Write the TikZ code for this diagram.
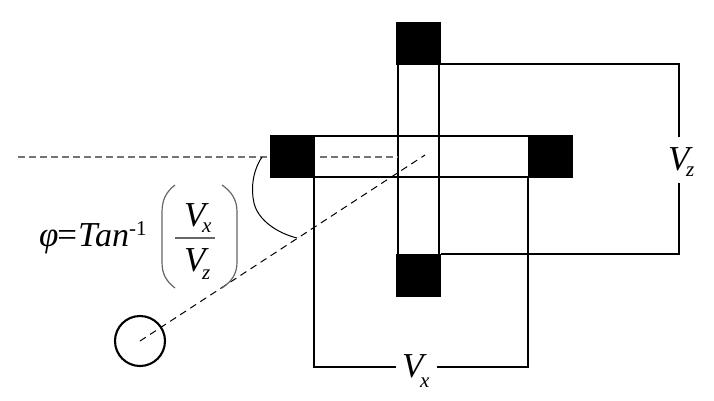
\documentclass[tikz,border=0pt]{standalone}
\usepackage{fontspec}
\setmainfont{Liberation Serif}
\newcommand{\bigit}{\fontsize{35}{35}\selectfont\itshape}
\newcommand{\subit}{\fontsize{21}{21}\selectfont\itshape}
\newcommand{\supup}{\fontsize{21}{21}\selectfont}
\newcommand{\vsub}[2]{{\bigit V}\kern-3.5pt\raisebox{#2}{\subit #1}}
\tikzset{
  pad/.style={fill=black,draw=none,minimum width=45pt,minimum height=43pt,inner sep=0pt},
  wire/.style={line width=2.3pt,line join=miter,black},
  thin wire/.style={line width=1.2pt,black!60},
  guide/.style={line width=1.1pt,black!55,dash pattern=on 7pt off 4pt},
  ray/.style={line width=1pt,black,dash pattern=on 7pt off 5pt},
  lbl/.style={inner sep=0pt,anchor=base west},
}
\begin{document}
\begin{tikzpicture}[x=1pt,y=-1pt]
\useasboundingbox (0,0) rectangle (714,400);
% wires of the probes
\draw[wire] (398,65) -- (398,254);
\draw[wire] (439,65) -- (439,254);
\draw[wire] (315,136) -- (528,136);
\draw[wire] (315,176.7) -- (528,176.7);
% pads
\node[pad] (top) at (418.5,43.5) {};
\node[pad] (bottom) at (418.5,275.5) {};
\node[pad] (left) at (292.5,156.5) {};
\node[pad] (right) at (550.5,156.5) {};
% labels
\node[lbl] (vz) at (668,170) {\vsub{z}{-6pt}};
\node[lbl] (vx) at (402,377) {\vsub{x}{-10pt}};
\node[lbl] (phi) at (39,246) {\bigit φ};
\node[lbl] (eq) at (55,246) {\bigit =};
\node[lbl] (tee) at (78,246) {\bigit T};
\node[lbl] (an) at (95,246) {\fontsize{34}{34}\selectfont\itshape an};
\node[lbl] (exp) at (129,235) {\supup -1};
\node[lbl] (nv) at (184,226) {\vsub{x}{-6pt}};
\node[lbl] (dv) at (184,271) {\vsub{z}{-8pt}};
% frames
\coordinate (ztr) at (679,64);
\coordinate (zbr) at (679,254);
\coordinate (zg1) at (679,137);
\coordinate (zg2) at (679,183);
\coordinate (xtl) at (314,178);
\coordinate (xtr) at (528,178);
\coordinate (xbl) at (314,367);
\coordinate (xbr) at (528,367);
\coordinate (xg1) at (396,367);
\coordinate (xg2) at (437,367);
\draw[wire] (top.south east |- ztr) -- (ztr) -- (zg1);
\draw[wire] (zg2) -- (zbr) -- (bottom.north east |- zbr);
\draw[wire] (xtl) -- (xbl) -- (xg1);
\draw[wire] (xg2) -- (xbr) -- (xtr);
% sensor and guide lines
\coordinate (ctr) at (140,341);
\coordinate (rayend) at (425,155);
\draw[line width=2.1pt] (ctr) circle (25pt);
\coordinate (gs) at (18,157);
\draw[guide] (gs) -- (left.west |- gs);
\draw[guide] (320,157) -- (398,157);
\draw[ray] (ctr) -- (rayend);
% angle arc
\coordinate (a1) at (262,157);
\coordinate (a2) at (297,238);
\draw[line width=1pt] (a1) .. controls (252,172) and (251,190) .. (254,203) .. controls (258,220) and (277,233) .. (a2);
% formula parens and bar
\draw[thin wire] (175,185) .. controls (166,192) and (162,200) .. (162,212) -- (162,262) .. controls (162,274) and (166,281) .. (175,288);
\draw[thin wire] (222,185) .. controls (232,192) and (237,200) .. (237,212) -- (237,262) .. controls (237,274) and (232,281) .. (222,288);
\draw[line width=1.3pt,black!60] (175,238) -- (215,238);
\end{tikzpicture}
\end{document}
